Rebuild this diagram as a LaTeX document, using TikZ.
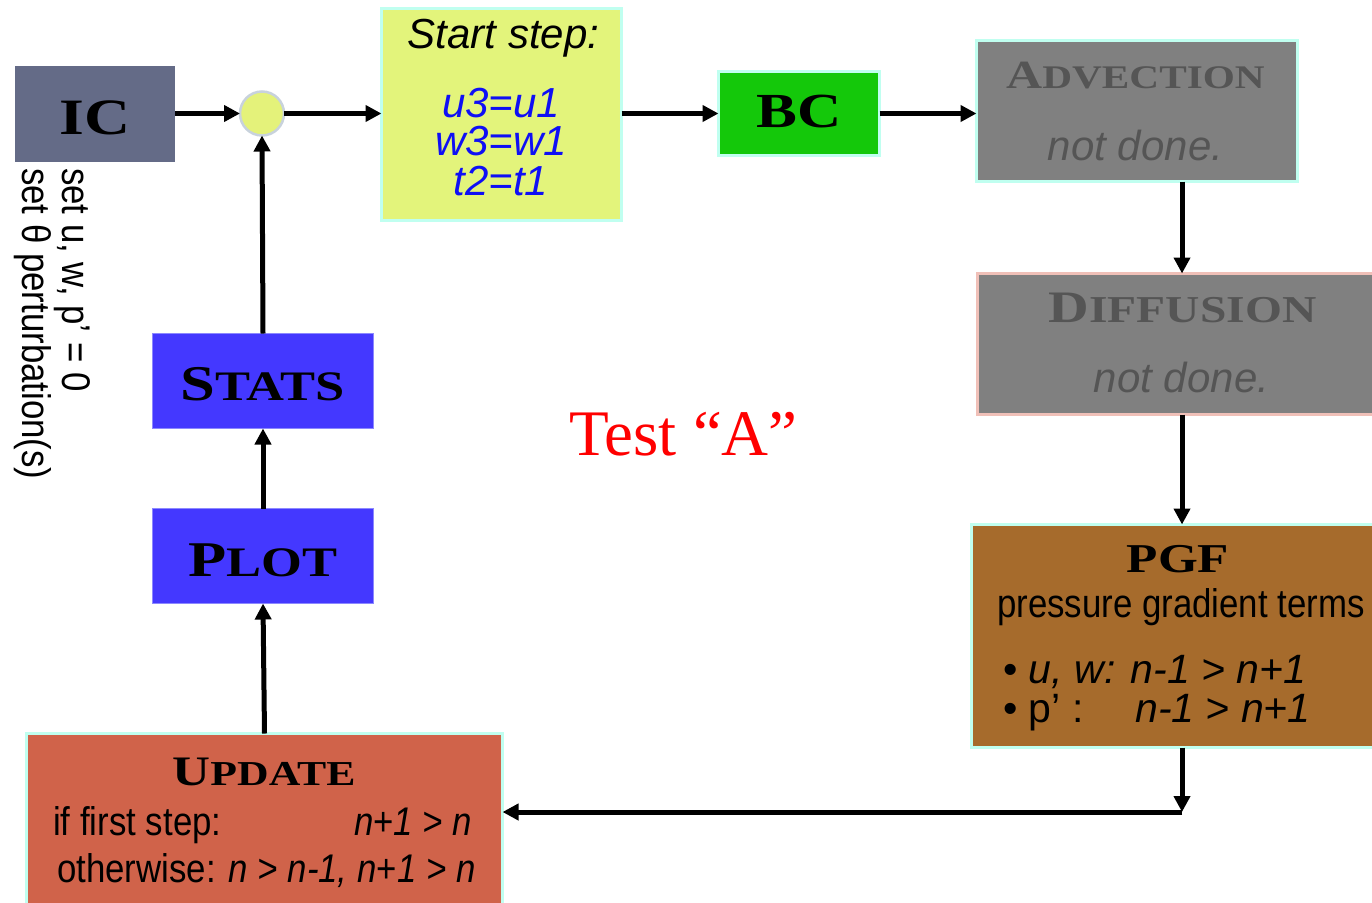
\documentclass[tikz,border=0pt]{standalone}
\usepackage{fontspec}
\setmainfont{Liberation Sans}
\newfontfamily\narrowf{Liberation Sans}[FakeStretch=0.87]
\newfontfamily\capf{Liberation Serif}[FakeStretch=1.25]
\newfontfamily\timesf{Liberation Serif}
\usetikzlibrary{arrows.meta}
\definecolor{icfill}{RGB}{100,107,135}
\definecolor{jfill}{RGB}{228,242,122}
\definecolor{jdraw}{RGB}{200,210,220}
\definecolor{startfill}{RGB}{227,244,123}
\definecolor{bcfill}{RGB}{20,200,10}
\definecolor{grayfill}{RGB}{128,128,128}
\definecolor{graytext}{RGB}{85,85,85}
\definecolor{pgffill}{RGB}{166,107,44}
\definecolor{updfill}{RGB}{208,99,74}
\definecolor{bluefill}{RGB}{68,56,255}
\definecolor{bluedraw}{RGB}{140,136,255}
\definecolor{cyanb}{RGB}{192,255,240}
\definecolor{pinkb}{RGB}{240,192,184}
\definecolor{bluetext}{RGB}{15,15,245}
\newcommand\ttl[4]{{\capf\bfseries\fontsize{#1}{#1}\selectfont #3\fontsize{#2}{#2}\selectfont #4}}
\begin{document}
\begin{tikzpicture}[x=1pt,y=-1pt,
  box/.style={rectangle, inner sep=0pt, outer sep=0pt, draw=cyanb, line width=3pt},
  arr/.style={line width=5pt, -{Triangle[length=16pt,width=16pt]}},
  lbl/.style={anchor=base, inner sep=0pt},
  lblw/.style={anchor=base west, inner sep=0pt},
  sans/.style={font=\fontsize{42}{42}\selectfont},
  narrow/.style={font=\narrowf\fontsize{40}{40}\selectfont}]
\useasboundingbox (0,0) rectangle (1372,902);
\clip (0,0) rectangle (1372,902);
% boxes
\node[rectangle, inner sep=0pt, outer sep=0pt, fill=icfill, minimum width=160pt, minimum height=96pt] (IC) at (95,114) {};
\node[circle, inner sep=0pt, outer sep=0pt, fill=jfill, draw=jdraw, line width=2.5pt, minimum size=44pt] (J) at (262,113.5) {};
\node[box, fill=startfill, minimum width=240pt, minimum height=212pt] (Start) at (501.5,114.5) {};
\node[box, fill=bcfill, minimum width=161pt, minimum height=84pt] (BC) at (799,113.5) {};
\node[box, fill=grayfill, minimum width=321pt, minimum height=141pt] (Adv) at (1137,111) {};
\node[box, draw=pinkb, fill=grayfill, minimum width=409pt, minimum height=141pt] (Diff) at (1182,344) {};
\node[box, fill=pgffill, minimum width=421pt, minimum height=223pt] (PGF) at (1182,636) {};
\node[box, fill=updfill, minimum width=476pt, minimum height=180pt] (Upd) at (264.5,823.5) {};
\node[box, draw=bluedraw, line width=1pt, fill=bluefill, minimum width=221pt, minimum height=95pt] (Plot) at (263,556) {};
\node[box, draw=bluedraw, line width=1pt, fill=bluefill, minimum width=221pt, minimum height=95pt] (Stats) at (263,381) {};
% texts
\node[lbl] (tIC) at (95,134) {\ttl{51}{51}{IC}{}};
\node[lbl] (tBC) at (799,127) {\ttl{49}{49}{BC}{}};
\node[lbl] (tStats) at (263,400) {\ttl{50}{42}{S}{TATS}};
\node[lbl] (tPlot) at (263,576) {\ttl{50}{42}{P}{LOT}};
\node[lbl] (tUpd) at (264,785) {\ttl{42}{35}{U}{PDATE}};
\node[lbl] (tPGF) at (1178,572) {\ttl{41}{41}{PGF}{}};
\node[lbl, text=graytext] (tAdv) at (1135.5,88) {\ttl{40}{33}{A}{DVECTION}};
\node[lbl, text=graytext, sans] (tAdvN) at (1135.5,160) {\itshape not done.};
\node[lbl, text=graytext] (tDiff) at (1182.5,322) {\ttl{45}{38}{D}{IFFUSION}};
\node[lbl, text=graytext, sans] (tDiffN) at (1181.5,392) {\itshape not done.};
\node[lbl, sans] (tStart) at (503.5,48) {\itshape Start step:};
\node[lbl, sans, text=bluetext] (tU) at (501,117) {\itshape u3=u1};
\node[lbl, sans, text=bluetext] (tW) at (501,155) {\itshape w3=w1};
\node[lbl, sans, text=bluetext] (tT) at (501,195) {\itshape t2=t1};
\node[lblw, narrow] (tPr) at (997,617) {pressure gradient terms};
\node[lblw, sans, font=\fontsize{41}{41}\selectfont] (tB1) at (1003,683) {•\ \textit{u, w: n-1 > n+1}};
\node[lblw, sans, font=\fontsize{41}{41}\selectfont] (tB2) at (1003,722) {\makebox[132pt][l]{•\ p’ :}\textit{n-1 > n+1}};
\node[lblw, narrow] (tU1) at (53,835) {\makebox[419pt][s]{if first step:\hfill\textit{n}+\textit{1 > n}}};
\node[lblw, narrow] (tU2) at (57,882) {otherwise: \textit{n > n-1, n}+\textit{1 > n}};
\node[lblw, narrow, rotate=-90] (tS1) at (62,168) {set u, w, p’ = 0};
\node[lblw, narrow, rotate=-90] (tS2) at (23,168) {set θ perturbation(s)};
\node[lbl, text=red, font=\timesf\fontsize{65}{65}\selectfont] (tTest) at (683.5,455) {Test “A”};
% connectors
\coordinate (K) at (1182,812);
\draw[arr] (IC.east |- J.west) -- (J.west);
\draw[arr] (J.east) -- (J.east -| Start.west);
\draw[arr] (BC.west -| Start.east) -- (BC.west);
\draw[arr] (BC.east) -- (BC.east -| Adv.west);
\draw[arr] (Adv.south -| Diff.north) -- (Diff.north);
\draw[arr] (Diff.south) -- (PGF.north);
\draw[arr] (PGF.south) -- (K);
\draw[arr] (K) -- (K -| Upd.east);
\draw[arr] (Upd.north) -- (Plot.south);
\draw[arr] (Plot.north) -- (Stats.south);
\draw[arr] (Stats.north) -- (J.south);
\end{tikzpicture}
\end{document}
